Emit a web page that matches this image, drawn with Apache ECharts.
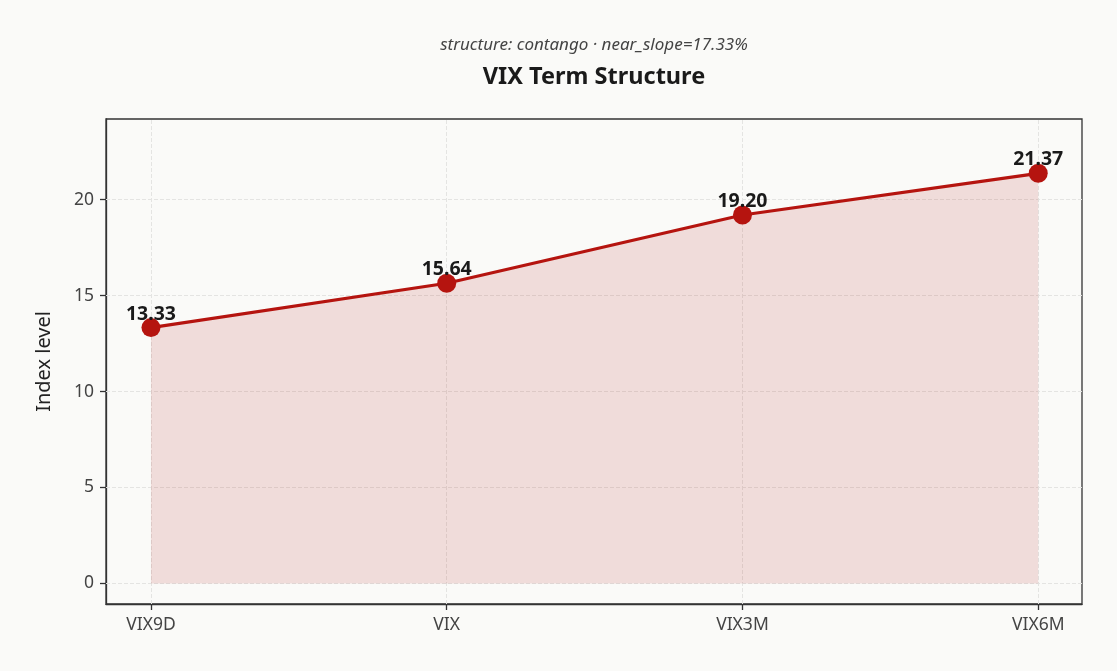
<!DOCTYPE html>
<html>
<head>
<meta charset="utf-8">
<script src="https://cdn.jsdelivr.net/npm/echarts@6/dist/echarts.min.js"></script>
<style>
html,body{margin:0;padding:0;background:#fafaf8;}
#chart{width:1117px;height:671px;}
</style>
</head>
<body>
<div id="chart"></div>
<script>
// term structure points
var tenors = ['VIX9D', 'VIX', 'VIX3M', 'VIX6M'];
var levels = [13.33, 15.64, 19.20, 21.37];
var yTicks = [0, 5, 10, 15, 20];

var chart = echarts.init(document.getElementById('chart'));

var pts = [];
for (var i = 0; i < levels.length; i++) {
	pts.push([i, levels[i]]);
}
var idx = [];
for (var i = 0; i < tenors.length; i++) idx.push(i);

var red = '#b5140f';
var font = 'Noto Sans';

var option = {
	backgroundColor: '#fafaf8',
	textStyle: {fontFamily: font},
	title: [{
		text: 'VIX Term Structure',
		left: 589, top: 60, textAlign: 'center',
		textStyle: {fontSize: 23.5, fontWeight: 'bold', color: '#1a1a1a', fontFamily: font}
	}, {
		text: 'structure: contango · near_slope=17.33%',
		left: 589, top: 32, textAlign: 'center',
		textStyle: {fontSize: 17, fontStyle: 'italic', fontWeight: 'normal', color: '#444', fontFamily: font}
	}],
	grid: {
		left: 106, right: 35, top: 119, bottom: 67,
		show: true, borderColor: '#333', borderWidth: 1.3, backgroundColor: 'transparent'
	},
	xAxis: {
		type: 'value',
		min: -0.152, max: 3.148,
		axisLine: {onZero: false, lineStyle: {color: '#333', width: 1.3}},
		axisTick: {customValues: idx, length: 6, lineStyle: {color: '#333', width: 1.3}},
		axisLabel: {
			customValues: idx, margin: 12, fontSize: 17.5, color: '#444',
			formatter: function(v){ return tenors[Math.round(v)] || ''; }
		},
		splitLine: {show: false}
	},
	yAxis: {
		type: 'value',
		min: -1.07, max: 24.2,
		name: 'Index level',
		nameLocation: 'middle',
		nameGap: 52,
		nameTextStyle: {fontSize: 20, color: '#222'},
		axisLine: {show: true, onZero: false, lineStyle: {color: '#333', width: 1.3}},
		axisTick: {customValues: yTicks, length: 6, lineStyle: {color: '#333', width: 1.3}},
		axisLabel: {customValues: yTicks, margin: 12, fontSize: 17.5, color: '#444'},
		splitLine: {show: false}
	},
	series: [{
		// grid lines only, kept beneath the data
		type: 'line',
		data: [],
		z: 1,
		silent: true,
		markLine: {
			z: 1,
			silent: true,
			symbol: 'none',
			label: {show: false},
			emphasis: {disabled: true},
			lineStyle: {color: '#e4e4e2', type: 'dashed', width: 1},
			data: idx.map(function(v){ return {xAxis: v}; })
				.concat(yTicks.map(function(v){ return {yAxis: v}; }))
		}
	}, {
		type: 'line',
		data: pts,
		z: 3,
		symbol: 'circle',
		symbolSize: 19,
		lineStyle: {color: red, width: 3.2},
		itemStyle: {color: red},
		areaStyle: {color: red, opacity: 0.13, origin: 0},
		label: {
			show: true, position: 'top', distance: -6,
			fontSize: 19.5, fontWeight: 'bold', color: '#1a1a1a',
			formatter: function(p){ return p.value[1].toFixed(2); }
		}
	}]
};
chart.setOption(option);
</script>
</body>
</html>
